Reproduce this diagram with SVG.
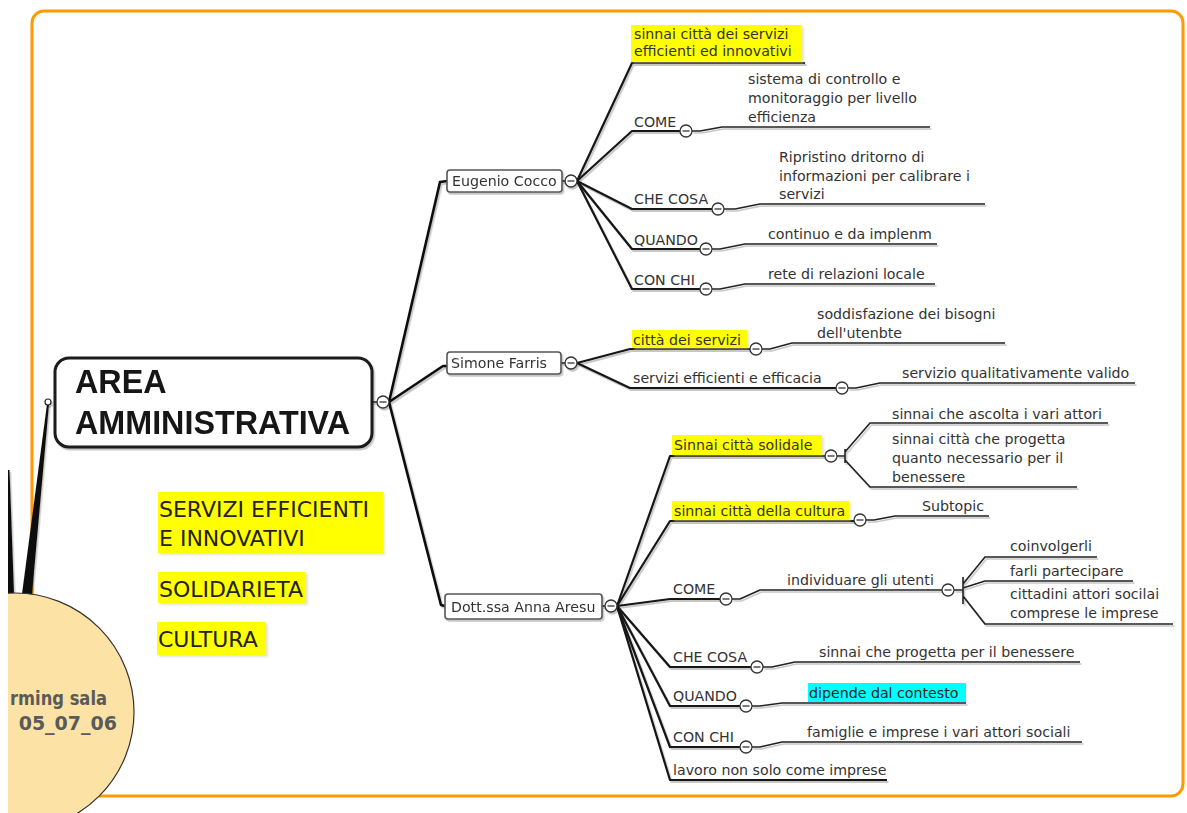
<svg xmlns="http://www.w3.org/2000/svg" width="1187" height="813" viewBox="0 0 1187 813">
<style>
.t{font-family:"DejaVu Sans","Noto Sans",sans-serif;font-size:14.2px;fill:#333}
.big{font-family:"DejaVu Sans","Noto Sans",sans-serif;font-size:22px;fill:#222}
.root{font-family:"Liberation Sans",Arial,sans-serif;font-size:32.3px;font-weight:bold;fill:#151515}
.circ{font-family:"DejaVu Sans","Noto Sans",sans-serif;font-size:19px;font-weight:bold;fill:#5a5a5a}
.box{fill:#fff;stroke:#555;stroke-width:1.6}
.hl{fill:#ffff00}
.cy{fill:#00ffff}
.c1{fill:none;stroke:#111;stroke-width:2.6;stroke-linejoin:round}
.c2{fill:none;stroke:#151515;stroke-width:2.2;stroke-linejoin:round}
.c3{fill:none;stroke:#222;stroke-width:1.6;stroke-linejoin:round}
.tog circle{fill:#fff;stroke:#333;stroke-width:1.3}
.tog line{stroke:#333;stroke-width:1.3}
</style>
<defs>
<filter id="sh" filterUnits="userSpaceOnUse" x="0" y="0" width="1187" height="813">
<feDropShadow dx="1.5" dy="2" stdDeviation="0.7" flood-color="#000" flood-opacity="0.22"/>
</filter>
<filter id="glow" filterUnits="userSpaceOnUse" x="0" y="0" width="1187" height="813">
<feDropShadow dx="2" dy="2" stdDeviation="1.2" flood-color="#cc9" flood-opacity="0.5"/>
</filter>
<g id="tg" class="tog"><circle r="6"/><line x1="-3.5" y1="0" x2="3.5" y2="0"/></g>
</defs>
<rect width="1187" height="813" fill="#fff"/>
<rect id="frame" x="32" y="11" width="1151" height="785" rx="12" fill="none" stroke="#ff9a00" stroke-width="3"/>

<g id="connectors" filter="url(#sh)">
<polygon points="8,470 9.5,470 14,594 8,594" fill="#111"/>
<polygon points="22,594 32,594 49,404 47,404" fill="#111"/>
<path class="c1" d="M389,402 L440,182 L447,181"/>
<path class="c1" d="M389,402 L443,366 L447,366"/>
<path class="c1" d="M389,402 L441,605 L445,606"/>
<path class="c2" d="M577,181 L632,63 L805,63"/>
<path class="c2" d="M577,181 L632,131 L680,131"/>
<path class="c2" d="M577,181 L632,209 L712,209"/>
<path class="c2" d="M577,181 L632,249 L700,249"/>
<path class="c2" d="M577,181 L632,289 L700,289"/>
<path class="c3" d="M692,131 L700,131 L722,127 L930,127"/>
<path class="c3" d="M724,209 L735,209 L760,204 L985,204"/>
<path class="c3" d="M712,249 L720,249 L745,244 L937,244"/>
<path class="c3" d="M712,289 L720,289 L745,284 L935,284"/>
<path class="c2" d="M577,363 L630,349 L750,349"/>
<path class="c2" d="M577,363 L630,388 L836,388"/>
<path class="c3" d="M762,349 L770,349 L792,343 L1005,343"/>
<path class="c3" d="M848,388 L856,388 L880,383 L1135,383"/>
<path class="c2" d="M617,606 L670,456 L825,456"/>
<path class="c2" d="M617,606 L670,521 L854,521"/>
<path class="c2" d="M617,606 L670,599 L720,599"/>
<path class="c2" d="M617,606 L670,667 L751,667"/>
<path class="c2" d="M617,606 L670,706 L740,706"/>
<path class="c2" d="M617,606 L670,747 L740,747"/>
<path class="c2" d="M617,606 L670,780 L887,780"/>
<path class="c3" d="M837,456 L845,456 M845,449 L845,463 M845,452 L870,423 L1108,423 M845,460 L870,487 L1077,487"/>
<path class="c3" d="M866,520 L874,520 L895,516 L989,516"/>
<path class="c3" d="M732,599 L740,599 L760,590 L942,590"/>
<path class="c3" d="M954,590 L963,590 M963,577 L963,604 M963,584 L985,557 L1097,557 M963,588 L985,581 L1133,581 M963,596 L985,624 L1173,624"/>
<path class="c3" d="M763,667 L772,667 L795,662 L1080,662"/>
<path class="c3" d="M752,706 L760,706 L782,703 L966,703"/>
<path class="c3" d="M752,747 L760,747 L782,742 L1082,742"/>
<path class="c3" d="M372,402 L377,402 M562,181 L565,181 M561,363 L565,363 M602,606 L605,606"/>
</g>

<g id="center-circle">
<circle cx="15" cy="712" r="119" fill="#fce3a5" stroke="#333" stroke-width="1.2"/>
<text class="circ" x="10" y="705" textLength="97" lengthAdjust="spacingAndGlyphs">rming sala</text>
<text class="circ" x="117" y="730" text-anchor="end">05_07_06</text>
</g>

<g id="root" filter="url(#sh)">
<rect x="55" y="358" width="317" height="89" rx="14" fill="#fff" stroke="#1a1a1a" stroke-width="3"/>
<text class="root" x="75" y="393">AREA</text>
<text class="root" x="75" y="434">AMMINISTRATIVA</text>
<circle cx="48" cy="402" r="3" fill="#fff" stroke="#222" stroke-width="1.2"/>
<use href="#tg" x="383" y="402"/>
</g>

<g id="eugenio" filter="url(#sh)">
<rect class="box" x="447" y="170" width="115" height="22" rx="3"/>
<text class="t" x="452" y="186">Eugenio Cocco</text>
<use href="#tg" x="571" y="181"/>
</g>
<g id="e-sinnai">
<rect class="hl" x="631" y="25" width="171" height="37" filter="url(#glow)"/>
<text class="t" x="634" y="39">sinnai città dei servizi</text>
<text class="t" x="634" y="56">efficienti ed innovativi</text>
</g>
<g id="e-come"><text class="t" x="634" y="127">COME</text><use href="#tg" x="686" y="131"/></g>
<g id="e-come-1"><text class="t" x="748" y="84">sistema di controllo e</text><text class="t" x="748" y="103">monitoraggio per livello</text><text class="t" x="748" y="122">efficienza</text></g>
<g id="e-checosa"><text class="t" x="634" y="204">CHE COSA</text><use href="#tg" x="718" y="209"/></g>
<g id="e-checosa-1"><text class="t" x="779" y="162">Ripristino dritorno di</text><text class="t" x="779" y="181">informazioni per calibrare i</text><text class="t" x="779" y="199">servizi</text></g>
<g id="e-quando"><text class="t" x="634" y="245">QUANDO</text><use href="#tg" x="706" y="249"/></g>
<g id="e-quando-1"><text class="t" x="768" y="239">continuo e da implenm</text></g>
<g id="e-conchi"><text class="t" x="634" y="285">CON CHI</text><use href="#tg" x="706" y="289"/></g>
<g id="e-conchi-1"><text class="t" x="768" y="279">rete di relazioni locale</text></g>

<g id="simone" filter="url(#sh)">
<rect class="box" x="447" y="352" width="114" height="22" rx="3"/>
<text class="t" x="451" y="368">Simone Farris</text>
<use href="#tg" x="571" y="363"/>
</g>
<g id="s-citta">
<rect class="hl" x="632" y="330" width="115" height="18" filter="url(#glow)"/>
<text class="t" x="633" y="345">città dei servizi</text>
<use href="#tg" x="756" y="349"/>
</g>
<g id="s-citta-1"><text class="t" x="817" y="319">soddisfazione dei bisogni</text><text class="t" x="817" y="338">dell'utenbte</text></g>
<g id="s-servizi"><text class="t" x="633" y="383">servizi efficienti e efficacia</text><use href="#tg" x="842" y="388"/></g>
<g id="s-servizi-1"><text class="t" x="902" y="378">servizio qualitativamente valido</text></g>

<g id="anna" filter="url(#sh)">
<rect class="box" x="445" y="594" width="157" height="25" rx="3"/>
<text class="t" x="451" y="612">Dott.ssa Anna Aresu</text>
<use href="#tg" x="611" y="606"/>
</g>
<g id="a-solidale">
<rect class="hl" x="672" y="435" width="150" height="20" filter="url(#glow)"/>
<text class="t" x="674" y="450">Sinnai città solidale </text>
<use href="#tg" x="831" y="456"/>
</g>
<g id="a-solidale-1"><text class="t" x="892" y="419">sinnai che ascolta i vari attori</text></g>
<g id="a-solidale-2"><text class="t" x="892" y="444">sinnai città che progetta</text><text class="t" x="892" y="463">quanto necessario per il</text><text class="t" x="892" y="482">benessere</text></g>
<g id="a-cultura">
<rect class="hl" x="672" y="501" width="177" height="19" filter="url(#glow)"/>
<text class="t" x="674" y="516">sinnai città della cultura</text>
<use href="#tg" x="860" y="520"/>
</g>
<g id="a-cultura-1"><text class="t" x="922" y="511">Subtopic</text></g>
<g id="a-come"><text class="t" x="673" y="594">COME</text><use href="#tg" x="726" y="599"/></g>
<g id="a-come-1"><text class="t" x="787" y="585">individuare gli utenti</text><use href="#tg" x="948" y="590"/></g>
<g id="a-come-1a"><text class="t" x="1010" y="551">coinvolgerli</text></g>
<g id="a-come-1b"><text class="t" x="1010" y="576">farli partecipare</text></g>
<g id="a-come-1c"><text class="t" x="1010" y="599">cittadini attori socilai</text><text class="t" x="1010" y="618">comprese le imprese</text></g>
<g id="a-checosa"><text class="t" x="673" y="662">CHE COSA</text><use href="#tg" x="757" y="667"/></g>
<g id="a-checosa-1"><text class="t" x="819" y="657">sinnai che progetta per il benessere</text></g>
<g id="a-quando"><text class="t" x="673" y="701">QUANDO</text><use href="#tg" x="746" y="706"/></g>
<g id="a-quando-1">
<rect class="cy" x="808" y="683" width="158" height="19"/>
<text class="t" x="809" y="698" style="fill:#222">dipende dal contesto</text>
</g>
<g id="a-conchi"><text class="t" x="673" y="742">CON CHI</text><use href="#tg" x="746" y="747"/></g>
<g id="a-conchi-1"><text class="t" x="807" y="737">famiglie e imprese i vari attori sociali</text></g>
<g id="a-lavoro"><text class="t" x="673" y="775">lavoro non solo come imprese</text></g>

<g id="note-servizi">
<rect class="hl" x="158" y="492" width="225" height="61" filter="url(#glow)"/>
<text class="big" x="159" y="517">SERVIZI EFFICIENTI</text>
<text class="big" x="159" y="546">E INNOVATIVI</text>
</g>
<g id="note-solidarieta">
<rect class="hl" x="158" y="572" width="148" height="31" filter="url(#glow)"/>
<text class="big" x="159" y="597">SOLIDARIETA</text>
</g>
<g id="note-cultura">
<rect class="hl" x="157" y="622" width="109" height="33" filter="url(#glow)"/>
<text class="big" x="158" y="647">CULTURA</text>
</g>
<rect x="0" y="0" width="8" height="813" fill="#fff"/>
</svg>
